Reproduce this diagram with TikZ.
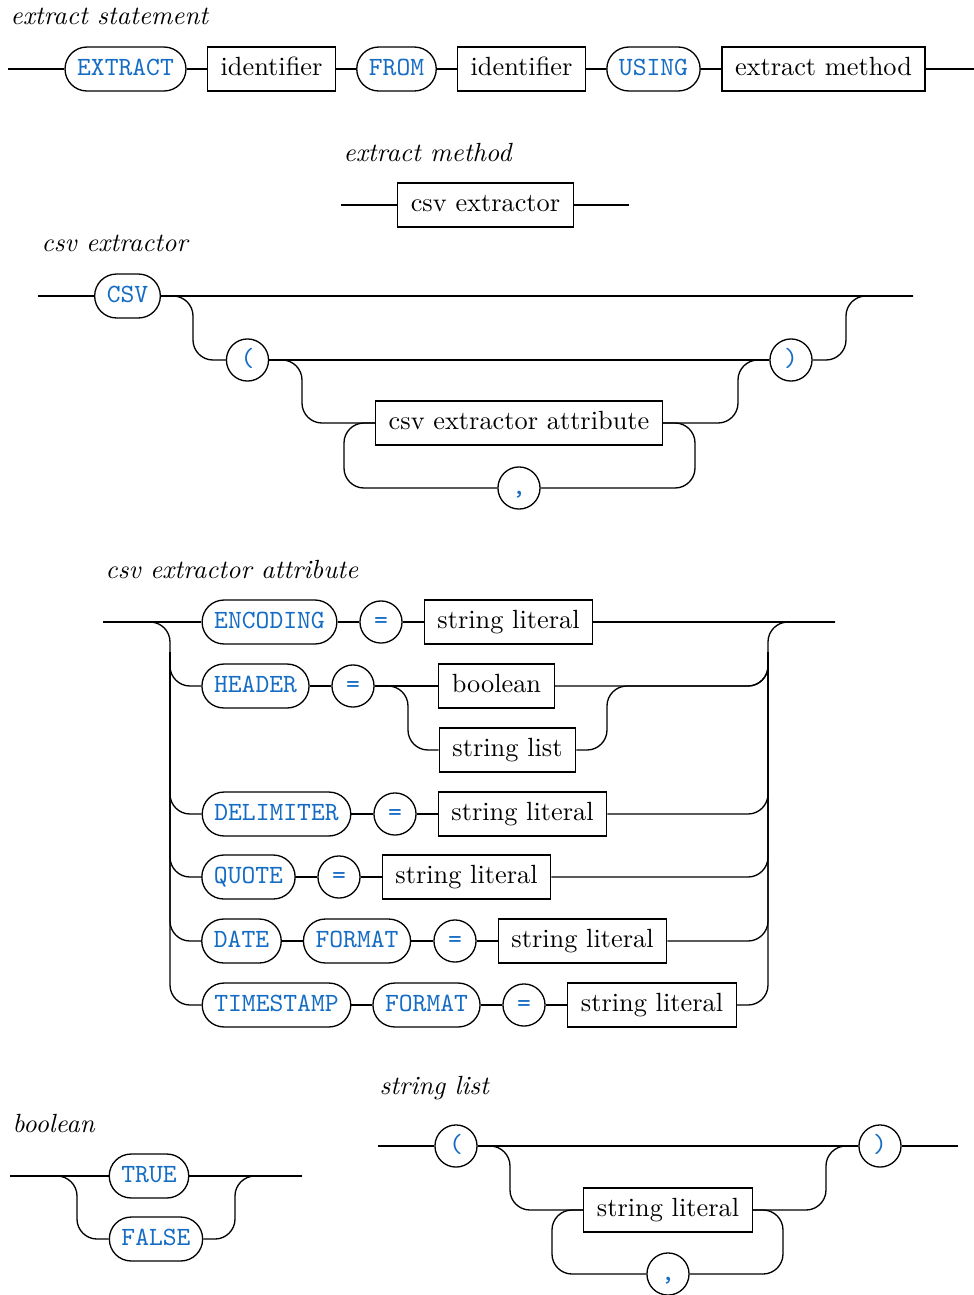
\documentclass[tikz,border=0pt]{standalone}
\definecolor{kwblue}{RGB}{20,108,196}
\tikzset{every picture/.style={line width=0.5pt}}
\tikzset{
  terminal/.style={draw, rounded corners=8.3pt, minimum height=16.7pt, inner xsep=4.6pt, inner ysep=0pt, text height=7pt, text depth=2pt, font=\ttfamily, text=kwblue},
  nonterminal/.style={draw, minimum height=16.7pt, inner xsep=5pt, inner ysep=0pt, text height=7pt, text depth=2pt},
  punct/.style={draw, circle, minimum size=16pt, inner sep=0pt, text height=7pt, text depth=2pt, font=\ttfamily, text=kwblue},
  ruletitle/.style={anchor=west, inner sep=0pt, font=\itshape},
  rail/.style={rounded corners=7.6pt}
}

\begin{document}
\begin{tikzpicture}[x=0.38pt,y=0.38pt,yscale=-1,xscale=1]
\useasboundingbox (0,0) rectangle (974,1295);

% extract statement
\node[ruletitle] (title-stmt) at (10,16) {extract statement};
\coordinate (stmt-in) at (8,69);
\coordinate (stmt-out) at (974,69);
\node[terminal] (extract) at (125.5,69) {EXTRACT};
\node[nonterminal] (ident-a) at (271.5,69) {identifier};
\node[terminal] (from) at (396.5,69) {FROM};
\node[nonterminal] (ident-b) at (521.5,69) {identifier};
\node[terminal] (using) at (653.5,69) {USING};
\node[nonterminal] (method) at (823.5,69) {extract method};
%Straight Lines
\draw[rail] (stmt-in) -- (extract) -- (ident-a) -- (from) -- (ident-b) -- (using) -- (method) -- (stmt-out);

% extract method
\node[ruletitle] (title-method) at (343,153) {extract method};
\coordinate (em-in) at (341,205);
\coordinate (em-out) at (629,205);
\node[nonterminal] (csvext) at (485.5,205) {csv extractor};
\draw[rail] (em-in) -- (csvext) -- (em-out);

% csv extractor
\node[ruletitle] (title-csv) at (41,243) {csv extractor};
\coordinate (csvx-in) at (38,296);
\coordinate (csvx-out) at (913,296);
\node[terminal] (csv) at (127.5,296) {CSV};
\node[punct] (lpar) at (247.5,360) {(};
\node[punct] (rpar) at (791,360) {)};
\node[nonterminal] (attr) at (519,423) {csv extractor attribute};
\node[punct] (comma) at (519,488) {,};
\coordinate (r1) at (193,360);
\coordinate (r2) at (846,296);
\coordinate (r3) at (302,423);
\coordinate (r4) at (738,360);
\coordinate (r5) at (695,488);
\coordinate (r6) at (344,423);
%Straight Lines
\draw[rail] (csvx-in) -- (csv) -- (csvx-out);
\draw[rail] (lpar) -- (rpar);
%Curve Lines
\draw[rail] (csv.east) -| (r1) -- (lpar);
\draw[rail] (rpar.east) -| (r2) -- (csvx-out);
\draw[rail] (lpar.east) -| (r3) -- (attr);
\draw[rail] (attr.east) -| (r4) -- (rpar);
\draw[rail] (attr.east) -| (r5) -- (comma);
\draw[rail] (comma.west) -| (r6) -- (attr.west);

% csv extractor attribute
\node[ruletitle] (title-attr) at (105,570) {csv extractor attribute};
\coordinate (attr-in) at (103,622);
\coordinate (attr-out) at (835,622);
\coordinate (ltop) at (170,652);
\coordinate (lbot) at (170,1005);
\coordinate (rtop) at (768,622);
\coordinate (rmid) at (768,652);
% row 1
\node[terminal] (encoding) at (269.5,622) {ENCODING};
\node[punct] (eq-a) at (381,622) {=};
\node[nonterminal] (lit-a) at (508.5,622) {string literal};
% row 2
\node[terminal] (header) at (255.5,686) {HEADER};
\node[punct] (eq-b) at (353,686) {=};
\node[nonterminal] (boolref) at (496.5,686) {boolean};
\node[nonterminal] (listref) at (507.5,750) {string list};
\coordinate (h1) at (408,750);
\coordinate (h2) at (607,686);
% row 3
\node[terminal] (delim) at (276.5,814) {DELIMITER};
\node[punct] (eq-c) at (395,814) {=};
\node[nonterminal] (lit-c) at (522.5,814) {string literal};
% row 4
\node[terminal] (quote) at (248.5,877) {QUOTE};
\node[punct] (eq-d) at (339,877) {=};
\node[nonterminal] (lit-d) at (466.5,877) {string literal};
% row 5
\node[terminal] (date) at (241.5,941) {DATE};
\node[terminal] (format-e) at (357,941) {FORMAT};
\node[punct] (eq-e) at (455,941) {=};
\node[nonterminal] (lit-e) at (582.5,941) {string literal};
% row 6
\node[terminal] (tstamp) at (276.5,1005) {TIMESTAMP};
\node[terminal] (format-f) at (426.5,1005) {FORMAT};
\node[punct] (eq-f) at (524,1005) {=};
\node[nonterminal] (lit-f) at (652,1005) {string literal};
%Straight Lines
\draw[rail] (attr-in) -- (encoding) -- (eq-a) -- (lit-a) -- (attr-out);
\draw[rail] (header) -- (eq-b) -- (boolref);
\draw[rail] (delim) -- (eq-c) -- (lit-c);
\draw[rail] (quote) -- (eq-d) -- (lit-d);
\draw[rail] (date) -- (format-e) -- (eq-e) -- (lit-e);
\draw[rail] (tstamp) -- (format-f) -- (eq-f) -- (lit-f);
%Curve Lines
\draw[rail] (attr-in) -| (lbot) -- (tstamp.west);
\draw[rail] (lit-f.east) -| (rtop) -- (attr-out);
\draw[rail] (ltop) |- (header.west);
\draw[rail] (ltop) |- (delim.west);
\draw[rail] (ltop) |- (quote.west);
\draw[rail] (ltop) |- (date.west);
\draw[rail] (eq-b.east) -| (h1) -- (listref);
\draw[rail] (listref.east) -| (h2) -| (rmid);
\draw[rail] (boolref.east) -| (rmid);
\draw[rail] (lit-c.east) -| (rmid);
\draw[rail] (lit-d.east) -| (rmid);
\draw[rail] (lit-e.east) -| (rmid);

% boolean
\node[ruletitle] (title-bool) at (12,1123) {boolean};
\coordinate (bool-in) at (10,1176);
\coordinate (bool-out) at (302,1176);
\node[terminal] (true) at (149,1176) {TRUE};
\node[terminal] (false) at (156,1239) {FALSE};
\coordinate (b1) at (77,1239);
\coordinate (b2) at (235,1176);
\draw[rail] (bool-in) -- (true) -- (bool-out);
\draw[rail] (bool-in) -| (b1) -- (false);
\draw[rail] (false.east) -| (b2) -- (bool-out);

% string list
\node[ruletitle] (title-list) at (379,1088) {string list};
\coordinate (sl-in) at (378,1146);
\coordinate (sl-out) at (958,1146);
\node[punct] (slpar) at (456,1146) {(};
\node[punct] (srpar) at (880,1146) {)};
\node[nonterminal] (slit) at (668,1210) {string literal};
\node[punct] (scomma) at (668,1274) {,};
\coordinate (s1) at (510,1210);
\coordinate (s2) at (826,1146);
\coordinate (s3) at (783,1274);
\coordinate (s4) at (552,1210);
\draw[rail] (sl-in) -- (slpar) -- (srpar) -- (sl-out);
\draw[rail] (slpar.east) -| (s1) -- (slit);
\draw[rail] (slit.east) -| (s2) -- (srpar);
\draw[rail] (slit.east) -| (s3) -- (scomma);
\draw[rail] (scomma.west) -| (s4) -- (slit.west);

\end{tikzpicture}
\end{document}
